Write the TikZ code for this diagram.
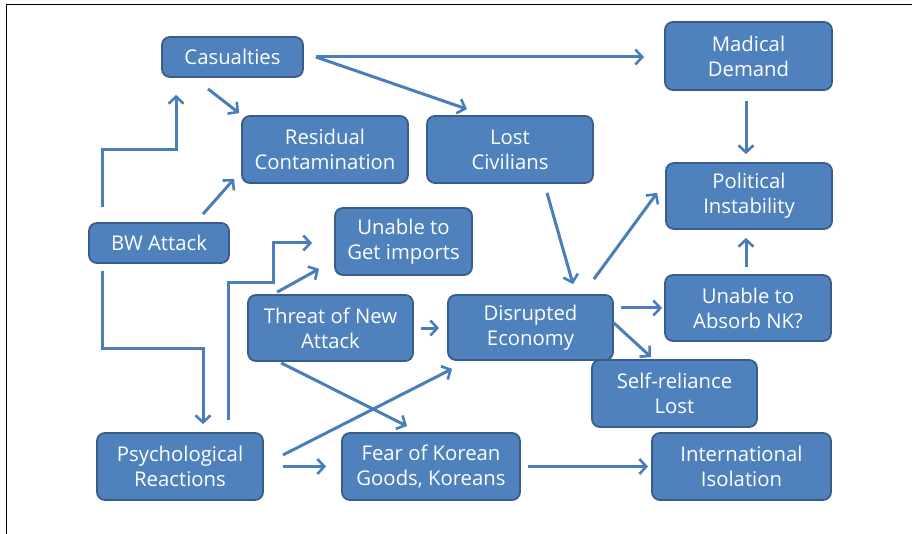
\documentclass[tikz,border=0pt]{standalone}
\usepackage{fontspec}
\setmainfont{Open Sans}
\usetikzlibrary{arrows.meta,calc}
\definecolor{boxfill}{HTML}{4F81BD}
\definecolor{boxline}{HTML}{385D8A}
\definecolor{arrcol}{HTML}{4A7EBB}
\begin{document}
\begin{tikzpicture}[x=1pt,y=-1pt,
  bx/.style={draw=boxline,line width=1.8pt,fill=boxfill,rounded corners=8pt,
    text=white,align=center,inner sep=0pt,
    font=\fontsize{20.3}{25}\selectfont},
  arr/.style={draw=arrcol,line width=3pt,-{Straight Barb[length=7pt,width=15pt,line width=2.6pt]}}]
\useasboundingbox (0,0) rectangle (912,534);
\draw[black,line width=1.5pt] (6.5,534) -- (6.5,4.5) -- (912,4.5);
% nodes
\node[bx,minimum width=141pt,minimum height=40pt] (cas) at (232.5,57) {Casualties};
\node[bx,minimum width=166pt,minimum height=67pt] (res) at (325,149.5) {Residual\\Contamination};
\node[bx,minimum width=166pt,minimum height=67pt] (lost) at (510,149.5) {Lost\\Civilians};
\node[bx,minimum width=167pt,minimum height=68pt] (mad) at (748.5,56) {Madical\\Demand};
\node[bx,minimum width=166pt,minimum height=66pt] (pol) at (749,196) {Political\\Instability};
\node[bx,minimum width=140pt,minimum height=40pt] (bw) at (159,243) {BW Attack};
\node[bx,minimum width=137pt,minimum height=67pt] (imp) at (403.5,241.5) {Unable to\\Get imports};
\node[bx,minimum width=165pt,minimum height=66pt] (thr) at (330.5,328) {Threat of New\\Attack};
\node[bx,minimum width=165pt,minimum height=65pt] (dis) at (530.5,327.5) {Disrupted\\Economy};
\node[bx,minimum width=166pt,minimum height=66pt] (abs) at (748,308) {Unable to\\Absorb NK?};
\node[bx,minimum width=165pt,minimum height=67pt] (self) at (674.5,393.5) {Self-reliance\\Lost};
\node[bx,minimum width=179pt,minimum height=67pt] (intl) at (741.5,466.5) {International\\Isolation};
\node[bx,minimum width=166pt,minimum height=67pt] (psy) at (180,466.5) {Psychological\\Reactions};
\node[bx,minimum width=178pt,minimum height=67pt] (fear) at (431,466.5) {Fear of Korean\\Goods, Koreans};
% connectors
\draw[arr] ($(cas.east)+(12,0)$) -- ($(mad.west)+(-20,1)$);
\draw[arr] ($(cas.east)+(12,0)$) -- ($(lost.north)+(-43,-6)$);
\draw[arr] ($(cas.south)+(-24.5,11)$) -- ($(res.north west)+(-2,-2)$);
\draw[arr] ($(bw.north west)+(14,-15)$) -- ++(0,-58) -| ($(cas.south west)+(15,17)$);
\draw[arr] ($(bw.north)+(44,-8)$) -- ($(res.south west)+(-7,-5)$);
\draw[arr] ($(bw.south west)+(14,7)$) -- ++(0,78) -| ($(psy.north)+(23,-8)$);
\draw[arr] ($(psy.north east)+(-35,-12)$) -- ++(0,-138) -- ++(45,0) |- ($(imp.west)+(-22,1.5)$);
\draw[arr] ($(thr.north west)+(30,-2)$) -- ($(imp.south west)+(-15,-7)$);
\draw[arr] ($(thr.east)+(7,0)$) -- ($(dis.west)+(-8,0.5)$);
\draw[arr] ($(thr.south west)+(34,1)$) -- ($(fear.north)+(-24,-6)$);
\draw[arr] ($(psy.east)+(19,-11.5)$) -- ($(dis.south west)+(5,8)$);
\draw[arr] ($(psy.east)+(19,0)$) -- ($(fear.west)+(-15,0)$);
\draw[arr] ($(fear.east)+(7,0)$) -- ($(intl.west)+(-3,0)$);
\draw[arr] ($(lost.south)+(37,9)$) -- ($(dis.north)+(42.5,-10)$);
\draw[arr] ($(dis.north east)+(-20,-15)$) -- ($(pol.south west)+(-8,-37)$);
\draw[arr] ($(dis.east)+(7,-19.5)$) -- ($(abs.west)+(-2,0)$);
\draw[arr] ($(dis.east)+(0,-4.5)$) -- ($(self.north)+(-23.5,-2)$);
\draw[arr] ($(mad.south)+(-2.5,10)$) -- ($(pol.north)+(-3,-8)$);
\draw[arr] ($(abs.north)+(-2,-7)$) -- ($(pol.south)+(-3,8)$);
\end{tikzpicture}
\end{document}
